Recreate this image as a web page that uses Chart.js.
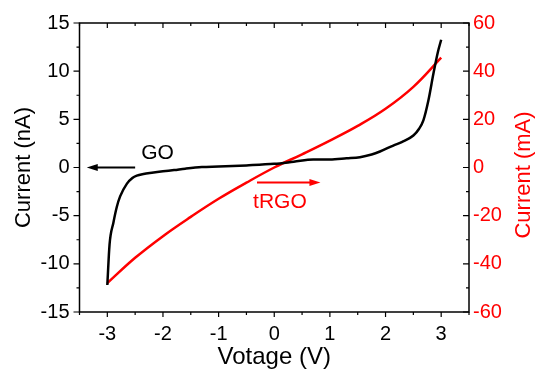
<!DOCTYPE html>
<html>
<head>
<meta charset="utf-8">
<script src="https://cdn.jsdelivr.net/npm/chart.js@4/dist/chart.umd.min.js"></script>
<style>
  html, body { margin: 0; padding: 0; background: #fff; }
  #wrap { width: 537px; height: 374px; }
</style>
</head>
<body>
<div id="wrap"><canvas id="graph"></canvas></div>
<script>
// GO sweep (left axis, nA)
const goV = [-3.0, -2.96, -2.89, -2.83, -2.77, -2.65, -2.55, -2.47, -2.35, -2.2, -2.0, -1.8, -1.6, -1.3, -1.0, -0.5, 0.0, 0.35, 0.7, 1.0, 1.3, 1.54, 1.75, 1.9, 2.14, 2.3, 2.5, 2.6, 2.68, 2.77, 2.86, 2.94, 3.0];
const goI = [-12.2, -8.0, -5.7, -4.1, -3.0, -1.7, -1.1, -0.85, -0.68, -0.55, -0.4, -0.27, -0.12, 0.05, 0.1, 0.22, 0.38, 0.6, 0.83, 0.82, 0.95, 1.07, 1.35, 1.66, 2.28, 2.65, 3.32, 4.0, 4.9, 6.96, 9.73, 11.97, 13.26];

// tRGO sweep (right axis, mA)
const trgoV = [-3.0, -2.5, -2.0, -1.5, -1.0, -0.5, 0.0, 0.5, 1.0, 1.5, 2.0, 2.5, 3.0];
const trgoI = [-48, -37.5, -28.5, -20.5, -13, -6.3, 0, 5.5, 11.2, 17.3, 24.4, 33.5, 45.6];

const xTicks = [-3, -2, -1, 0, 1, 2, 3];
const yLeftTicks = [-15, -10, -5, 0, 5, 10, 15];
const yRightTicks = [-60, -40, -20, 0, 20, 40, 60];

const toPts = (xs, ys) => xs.map((v, i) => ({ x: v, y: ys[i] }));
const fam = '"Liberation Sans", Arial, sans-serif';

// frame, ticks, right title and the two arrow labels
const framePlugin = {
    id: 'frame',
    afterDraw(chart) {
        const ctx = chart.ctx;
        const a = chart.chartArea;
        const x = chart.scales.x, y = chart.scales.y, y2 = chart.scales.y2;
        ctx.save();
        ctx.strokeStyle = '#000';
        ctx.lineWidth = 1.5;
        ctx.strokeRect(a.left, a.top, a.right - a.left, a.bottom - a.top);
        ctx.lineWidth = 1.2;
        ctx.beginPath();
        for (let v = -3.5; v <= 3.5; v += 0.5) {
            const px = x.getPixelForValue(v);
            const len = Number.isInteger(v) ? 5 : 3;
            ctx.moveTo(px, a.bottom); ctx.lineTo(px, a.bottom + len);
            ctx.moveTo(px, a.top); ctx.lineTo(px, a.top + len);
        }
        for (let v = -15; v <= 15; v += 2.5) {
            const py = y.getPixelForValue(v);
            const len = (v % 5 === 0) ? 6 : 3;
            ctx.moveTo(a.left, py); ctx.lineTo(a.left - len, py);
        }
        for (let v = -60; v <= 60; v += 10) {
            const py = y2.getPixelForValue(v);
            const len = (v % 20 === 0) ? 6 : 3;
            ctx.moveTo(a.right, py); ctx.lineTo(a.right - len, py);
        }
        ctx.stroke();

        const arrow = (x0, x1, yv, color) => {
            const p0 = x.getPixelForValue(x0), p1 = x.getPixelForValue(x1);
            const py = y.getPixelForValue(yv);
            const dir = Math.sign(p1 - p0);
            ctx.strokeStyle = color; ctx.fillStyle = color;
            ctx.lineWidth = 2;
            ctx.beginPath();
            ctx.moveTo(p0, py); ctx.lineTo(p1 - dir * 8, py);
            ctx.stroke();
            ctx.beginPath();
            ctx.moveTo(p1, py);
            ctx.lineTo(p1 - dir * 11, py - 3.5);
            ctx.lineTo(p1 - dir * 11, py + 3.5);
            ctx.closePath();
            ctx.fill();
        };
        arrow(-2.5, -3.37, 0, '#000');
        arrow(-0.31, 0.83, -1.56, '#ff0000');

        ctx.font = '21px ' + fam;
        ctx.textBaseline = 'middle';
        ctx.fillStyle = '#000';
        ctx.fillText('GO', x.getPixelForValue(-2.39), y.getPixelForValue(1.45));
        ctx.fillStyle = '#ff0000';
        ctx.fillText('tRGO', x.getPixelForValue(-0.38), y.getPixelForValue(-3.6));

        // right axis title, reading bottom to top
        ctx.translate(524, 175);
        ctx.rotate(-Math.PI / 2);
        ctx.textAlign = 'center';
        ctx.font = '22px ' + fam;
        ctx.fillText('Current (mA)', 0, 0);
        ctx.restore();
    }
};

const font = { family: fam, size: 20 };

new Chart(document.getElementById('graph'), {
    type: 'line',
    data: {
        datasets: [
            {
                label: 'GO',
                data: toPts(goV, goI),
                borderColor: '#000',
                borderWidth: 2.5,
                pointRadius: 0,
                cubicInterpolationMode: 'monotone',
                yAxisID: 'y'
            },
            {
                label: 'tRGO',
                data: toPts(trgoV, trgoI),
                borderColor: '#ff0000',
                borderWidth: 2.5,
                pointRadius: 0,
                tension: 0.4,
                yAxisID: 'y2'
            }
        ]
    },
    options: {
        responsive: true,
        maintainAspectRatio: false,
        animation: false,
        layout: { padding: { top: 23, right: 0, left: 0, bottom: 0 } },
        plugins: { legend: { display: false }, tooltip: { enabled: false } },
        scales: {
            x: {
                type: 'linear',
                min: -3.5, max: 3.5,
                afterBuildTicks: s => { s.ticks = xTicks.map(v => ({ value: v })); },
                afterFit: s => { s.height = 62; },
                grid: { display: false, drawTicks: false },
                border: { display: false },
                ticks: { color: '#000', font: font, padding: 10 },
                title: { display: true, text: 'Votage (V)', color: '#000', font: { family: fam, size: 24 }, padding: { top: 0, bottom: 2 } }
            },
            y: {
                position: 'left',
                min: -15, max: 15,
                afterBuildTicks: s => { s.ticks = yLeftTicks.map(v => ({ value: v })); },
                afterFit: s => { s.width = 79.5; },
                grid: { display: false, drawTicks: false },
                border: { display: false },
                ticks: { color: '#000', font: font, padding: 10 },
                title: { display: true, text: 'Current (nA)', color: '#000', font: { family: fam, size: 22 }, padding: { top: 11, bottom: 0 } }
            },
            y2: {
                position: 'right',
                min: -60, max: 60,
                afterBuildTicks: s => { s.ticks = yRightTicks.map(v => ({ value: v })); },
                afterFit: s => { s.width = 68; },
                grid: { display: false, drawTicks: false },
                border: { display: false },
                ticks: { color: '#ff0000', font: font, padding: 4 },
                title: { display: false }
            }
        }
    },
    plugins: [framePlugin]
});
</script>
</body>
</html>
